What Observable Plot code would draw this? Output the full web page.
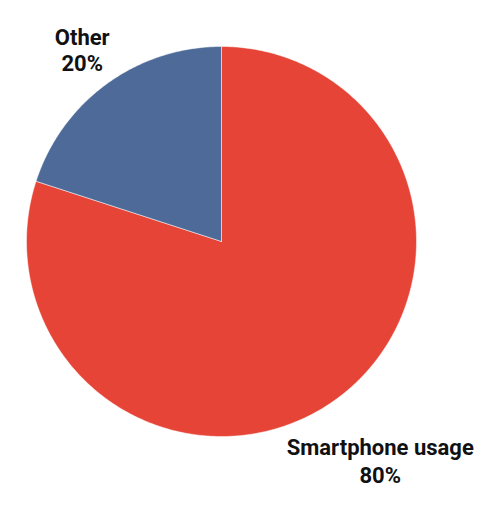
<!DOCTYPE html>
<html>
<head>
<meta charset="utf-8">
<script src="https://cdn.jsdelivr.net/npm/d3@7"></script>
<script src="https://cdn.jsdelivr.net/npm/@observablehq/plot@0.6"></script>
<style>
  html, body { margin: 0; padding: 0; background: #fff; }
</style>
</head>
<body>
<div id="chart"></div>
<script>
const categories = ["Smartphone usage", "Other"];
const values = [80, 20];
const colors = ["#E64436", "#4E6A98"];

const W = 500, H = 512;
const cx = 221, cy = 241, R = 195;
const xDomain = [-cx / R, (W - cx) / R];
const yDomain = [-(H - cy) / R, cy / R];

const arcs = d3.pie().sort(null).value(d => d)(values);

const pts = [];
arcs.forEach((a, i) => {
  pts.push({slice: categories[i], color: colors[i], x: 0, y: 0});
  const n = Math.max(2, Math.ceil((a.endAngle - a.startAngle) / 0.01));
  for (let k = 0; k <= n; k++) {
    const t = a.startAngle + (a.endAngle - a.startAngle) * k / n;
    pts.push({slice: categories[i], color: colors[i], x: Math.sin(t), y: Math.cos(t)});
  }
  pts.push({slice: categories[i], color: colors[i], x: 0, y: 0});
});

const labelRadius = [1.385, 1.215];
const lineHeights = [1.3, 1.15];
const labelData = arcs.map((a, i) => {
  const m = (a.startAngle + a.endAngle) / 2;
  const total = d3.sum(values);
  return {
    text: categories[i] + "\n" + Math.round(values[i] / total * 100) + "%",
    x: Math.sin(m) * labelRadius[i],
    y: Math.cos(m) * labelRadius[i],
    lh: lineHeights[i]
  };
});

const chart = Plot.plot({
  width: W,
  height: H,
  margin: 0,
  x: {domain: xDomain, axis: null},
  y: {domain: yDomain, axis: null},
  color: {type: "identity"},
  style: {fontFamily: "Roboto, sans-serif", background: "white"},
  marks: [
    Plot.line(pts, {x: "x", y: "y", z: "slice", fill: "color", stroke: "white", strokeWidth: 0.5, curve: "linear"}),
    ...labelData.map(d => Plot.text([d], {
      x: "x", y: "y", text: "text",
      fontSize: 22, fontWeight: "bold", fill: "#111",
      lineHeight: d.lh, lineAnchor: "middle", textAnchor: "middle"
    }))
  ]
});

document.getElementById("chart").appendChild(chart);
</script>
</body>
</html>
